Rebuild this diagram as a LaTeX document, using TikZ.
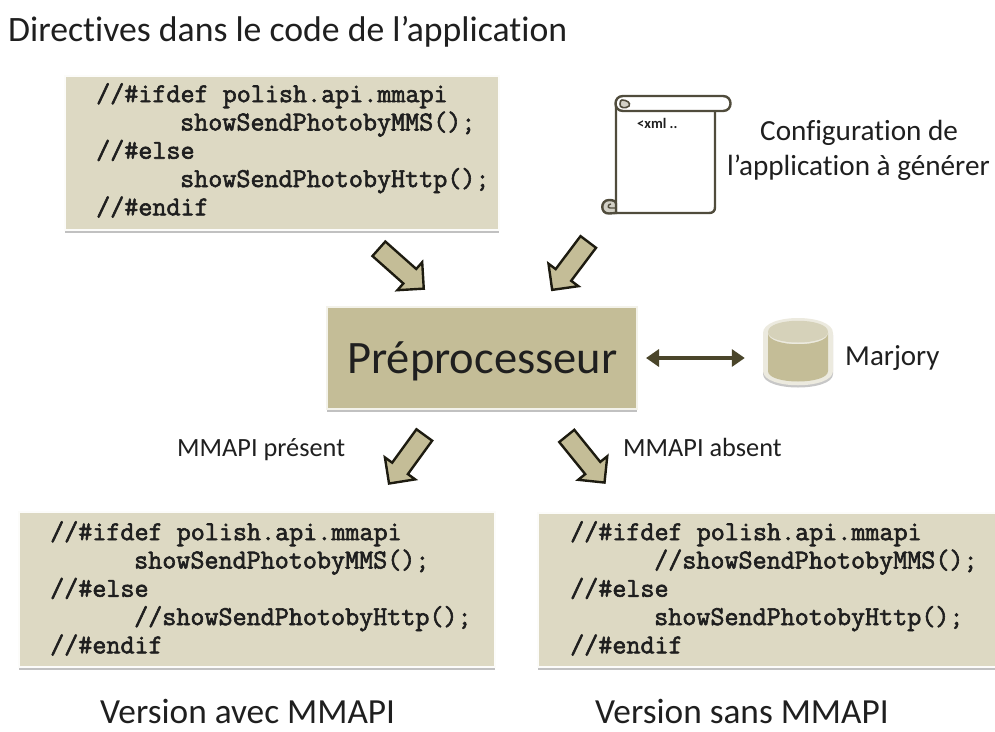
\documentclass[tikz,border=0pt]{standalone}
\usepackage{fontspec}
\setmainfont{Carlito}[Ligatures=NoCommon]
\setmonofont{Latin Modern Mono}[BoldFont={Latin Modern Mono},BoldFeatures={FakeBold=2.2}]
\usetikzlibrary{shapes.arrows,shapes.geometric,shadows,arrows.meta,calc}
\definecolor{tanfill}{HTML}{C4BD97}
\definecolor{codefill}{HTML}{DDD9C3}
\definecolor{arrowedge}{HTML}{1D1B10}
\definecolor{darkolive}{HTML}{4A452A}
\definecolor{scrolledge}{HTML}{504C3C}
\definecolor{curlfill}{HTML}{D2D0C6}
\definecolor{dbrim}{HTML}{ECEADF}
\definecolor{dbtop}{HTML}{D6D2BA}
\newlength{\codeindent}\setlength{\codeindent}{84pt}
\tikzset{
  softshadow/.style={drop shadow={shadow xshift=-.5pt,shadow yshift=-3pt,fill=black!70,opacity=.35}},
  codebox/.style={rectangle,fill=codefill,draw=white!92!codefill,line width=2pt,softshadow,anchor=north west,inner sep=0pt},
  codetext/.style={anchor=north west,inner sep=0pt,align=left,font=\fontsize{27.3}{28.3}\selectfont\ttfamily\bfseries,text=black!88},
  blockarrow/.style={single arrow,anchor=tail,fill=tanfill,draw=arrowedge,line width=2.4pt,inner xsep=0pt,inner ysep=8.5pt,
    single arrow head extend=9pt,single arrow tip angle=90,minimum height=60pt},
  lbl/.style={anchor=base west,inner sep=0pt,text=black!88},
}
\begin{document}
\begin{tikzpicture}[x=1pt,y=-1pt]
\useasboundingbox (0,0) rectangle (995,731);
\node[lbl,font=\fontsize{35.7}{40}\selectfont] (title) at (8,41) {Directives dans le code de l’application};
% code boxes
\node[codebox,minimum width=434pt,minimum height=154pt] (src) at (64,75) {};
\node[codetext] (srctxt) at (96,83) {//\#ifdef polish.api.mmapi\\\hspace*{\codeindent}showSendPhotobyMMS();\\//\#else\\\hspace*{\codeindent}showSendPhotobyHttp();\\//\#endif};
\node[codebox,minimum width=476pt,minimum height=155pt] (withbox) at (18,511) {};
\node[codetext] (withtxt) at (50,521) {//\#ifdef polish.api.mmapi\\\hspace*{\codeindent}showSendPhotobyMMS();\\//\#else\\\hspace*{\codeindent}//showSendPhotobyHttp();\\//\#endif};
\node[codebox,minimum width=460pt,minimum height=154pt] (withoutbox) at (537,512) {};
\node[codetext] (withouttxt) at (570,521) {//\#ifdef polish.api.mmapi\\\hspace*{\codeindent}//showSendPhotobyMMS();\\//\#else\\\hspace*{\codeindent}showSendPhotobyHttp();\\//\#endif};
% preprocessor
\node[rectangle,fill=tanfill,draw=white!80!tanfill,line width=2pt,softshadow,minimum width=310pt,minimum height=102pt,inner sep=0pt] (prep) at (482,358) {};
\node[lbl,font=\fontsize{46.5}{50}\selectfont] (preptxt) at (347,373) {Préprocesseur};
% scroll
\begin{scope}[line width=2.4pt,draw=scrolledge]
\draw[scrolledge,fill=white,line join=round] (616,104) -- (616,213) -- (709,213) .. controls (713,213) and (715,211) .. (715,207) -- (715,108) -- cycle;
\draw[scrolledge,fill=white] (623,96) -- (723,96) .. controls (733,96) and (733,111) .. (723,111) -- (623,111) .. controls (613,111) and (613,96) .. (623,96) -- cycle;
\draw[scrolledge,fill=curlfill,line width=1.6pt] (622,100) .. controls (627,100) and (631,103) .. (629,106) .. controls (626,109) and (619,108) .. (620,104) .. controls (620,101) and (621,100) .. (622,100) -- cycle;
\draw[scrolledge,fill=curlfill] (609,200) .. controls (600,200) and (600,214) .. (609,213.5) -- (616,213) -- (616,204) .. controls (616,201) and (613,200) .. (609,200) -- cycle;
\draw[scrolledge,line width=1.4pt] (611,204) .. controls (608,204) and (607,208) .. (610,208) -- (616,208);
\end{scope}
\node[lbl,font=\fontsize{14.5}{16}\selectfont\bfseries] (xml) at (637,128) {<xml ..};
\node[lbl,font=\fontsize{29.2}{32}\selectfont] (cfg1) at (760,140) {Configuration de};
\node[lbl,font=\fontsize{29.2}{32}\selectfont] (cfg2) at (727,175) {l’application à générer};
% block arrows
\node[blockarrow,rotate=-41.6] (a1) at (378,248) {};
\node[blockarrow,rotate=-127] (a2) at (589,241) {};
\node[blockarrow,rotate=-126] (a3) at (425,434) {};
\node[blockarrow,rotate=-51] (a4) at (566,435) {};
% database
\node[inner sep=0pt,minimum width=70pt,minimum height=66pt] (db) at (798,353) {};
\fill[black!55,opacity=.4] (763,335) -- (763,374) .. controls (763,392) and (833,392) .. (833,374) -- (833,335) -- cycle;
\fill[dbrim] (763,333) .. controls (763,313) and (833,313) .. (833,333) -- (833,371) .. controls (833,390) and (763,390) .. (763,371) -- cycle;
\fill[tanfill] (768,333) -- (768,371) .. controls (768,385) and (828,385) .. (828,371) -- (828,333) .. controls (828,348) and (768,348) .. (768,333) -- cycle;
\fill[dbtop] (768,332) .. controls (768,317) and (828,317) .. (828,332) .. controls (828,346) and (768,346) .. (768,332) -- cycle;
\node[lbl,font=\fontsize{29}{32}\selectfont] (marjory) at (845,365) {Marjory};
\draw[{Triangle[length=13pt,width=17pt]}-{Triangle[length=13pt,width=17pt]},line width=4pt,draw=darkolive,fill=darkolive,shorten <=8pt,shorten >=18pt]
  (prep.east) -- (db.west |- prep.east);
\node[lbl,font=\fontsize{26.3}{28}\selectfont] (present) at (177,456) {MMAPI présent};
\node[lbl,font=\fontsize{26.3}{28}\selectfont] (absent) at (623,456) {MMAPI absent};
\node[lbl,font=\fontsize{35.3}{38}\selectfont] (vavec) at (100,723) {Version avec MMAPI};
\node[lbl,font=\fontsize{35.3}{38}\selectfont] (vsans) at (595,723) {Version sans MMAPI};
\end{tikzpicture}
\end{document}
